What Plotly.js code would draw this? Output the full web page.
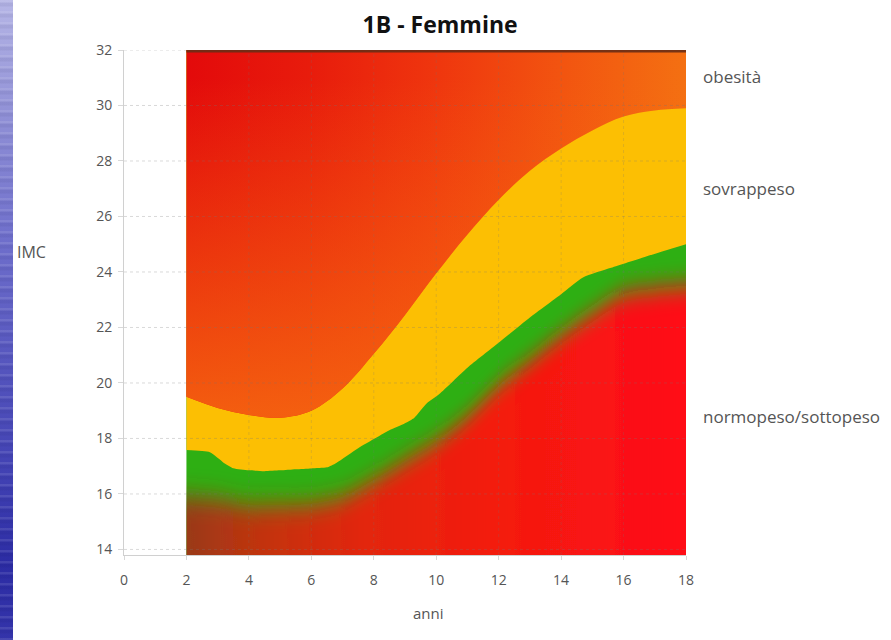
<!DOCTYPE html>
<html>
<head>
<meta charset="utf-8">
<script src="https://cdn.plot.ly/plotly-3.0.1.min.js"></script>
<style>
  html, body { margin: 0; padding: 0; background: #ffffff; }
  #wrap { position: relative; width: 891px; height: 640px; overflow: hidden; }
  #chart { position: absolute; left: 0; top: 0; width: 891px; height: 640px; }
  #stripe {
    position: absolute; left: 0; top: 0; width: 13px; height: 640px; z-index: 5;
    background:
      repeating-linear-gradient(to bottom, rgba(255,255,255,0.10) 0px, rgba(255,255,255,0.10) 2px, rgba(0,0,60,0.06) 3px, rgba(0,0,60,0.06) 6px, rgba(255,255,255,0.0) 7px, rgba(255,255,255,0.0) 11px),
      linear-gradient(to bottom, #b6b6e6 0%, #9090d6 18%, #6e6ecb 38%, #5454bd 58%, #4040b2 75%, #2c2ca4 88%, #3434aa 100%);
  }
</style>
</head>
<body>
<div id="wrap">
  <div id="chart"></div>
  <div id="stripe"></div>
</div>
<script>
// ---- data ----
const ageX = [2, 3, 4, 5, 6, 7, 8, 9, 10, 11, 12, 13, 14, 15, 16, 17, 18];
// upper boundary of "sovrappeso" (start of "obesità")
const obesityCut = [19.5, 19.1, 18.85, 18.75, 19.0, 19.8, 21.05, 22.45, 23.95, 25.35, 26.6, 27.65, 28.45, 29.1, 29.6, 29.82, 29.9];
// upper boundary of "normopeso/sottopeso" (start of "sovrappeso")
const overweightX = [2, 2.75, 3.2, 3.5, 4, 4.5, 5, 5.5, 6, 6.5, 6.8, 7.5, 8, 8.5, 9, 9.3, 9.7, 10.1, 11, 12, 13, 14, 14.7, 15.6, 16.7, 18];
const overweightCut = [17.58, 17.5, 17.12, 16.93, 16.85, 16.82, 16.85, 16.89, 16.92, 16.96, 17.12, 17.65, 17.98, 18.3, 18.55, 18.75, 19.27, 19.6, 20.55, 21.45, 22.36, 23.2, 23.8, 24.15, 24.55, 25.0];
// where the green band fades into red
const greenFade = [15.9, 15.8, 15.6, 15.6, 15.65, 15.9, 16.5, 17.2, 17.9, 18.8, 19.9, 20.8, 21.7, 22.5, 23.2, 23.4, 23.5];
// top of the coloured area
const topX = [2, 18];
const topY = [32, 32];
// ticks
const xTicks = [0, 2, 4, 6, 8, 10, 12, 14, 16, 18];
const yTicks = [14, 16, 18, 20, 22, 24, 26, 28, 30, 32];
const zoneNames = ['obesità', 'sovrappeso', 'normopeso/sottopeso'];

const FONT = '"Open Sans", "Noto Sans", sans-serif';
const noLine = { width: 0, color: 'rgba(0,0,0,0)' };
const base = { type: 'scatter', mode: 'lines', hoverinfo: 'skip', showlegend: false };

const data = [
  // 0: green under everything
  Object.assign({}, base, { x: topX, y: topY, fill: 'tozeroy', fillcolor: '#2eaf13', line: noLine }),
  // 1: red base below green fade (softened afterwards)
  Object.assign({}, base, { x: ageX, y: greenFade, fill: 'tozeroy', line: Object.assign({ shape: 'spline' }, noLine),
    fillgradient: { type: 'horizontal', start: 2, stop: 18,
      colorscale: [[0, '#9a3a16'], [0.15, '#c2330f'], [0.35, '#e22610'], [0.6, '#f31c10'], [1, '#ff0c14']] } }),
  // 2-3: yellow band (sovrappeso) from overweight cut upwards
  Object.assign({}, base, { x: overweightX, y: overweightCut, line: Object.assign({ shape: 'spline', smoothing: 0.6 }, noLine) }),
  Object.assign({}, base, { x: topX, y: topY, fill: 'tonexty', fillcolor: 'rgb(252,191,3)', line: noLine }),
  // 4-5: obesity area, horizontal gradient
  Object.assign({}, base, { x: ageX, y: obesityCut, line: Object.assign({ shape: 'spline' }, noLine) }),
  Object.assign({}, base, { x: topX, y: topY, fill: 'tonexty', line: noLine,
    fillgradient: { type: 'horizontal', start: 2, stop: 18,
      colorscale: [[0, '#e30a0b'], [0.25, '#e81c0c'], [0.5, '#ef360e'], [0.75, '#f25410'], [1, '#f47012']] } }),
  // 6-7: obesity area, orange glow near boundary
  Object.assign({}, base, { x: ageX, y: obesityCut, line: Object.assign({ shape: 'spline' }, noLine) }),
  Object.assign({}, base, { x: topX, y: topY, fill: 'tonexty', line: noLine,
    fillgradient: { type: 'vertical', start: 19, stop: 31,
      colorscale: [[0, 'rgba(246,106,16,0.85)'], [1, 'rgba(246,106,16,0)']] } })
];

const shapes = [];
yTicks.forEach(function (v) {
  shapes.push({ type: 'line', xref: 'x', yref: 'y', x0: 0, x1: 18, y0: v, y1: v, layer: 'above',
    line: { color: 'rgba(120,120,120,0.28)', width: 1, dash: 'dot' } });
});
xTicks.slice(2, -1).forEach(function (v) {
  shapes.push({ type: 'line', xref: 'x', yref: 'y', x0: v, x1: v, y0: 13.8, y1: 32, layer: 'above',
    line: { color: 'rgba(120,120,120,0.22)', width: 1, dash: 'dot' } });
});
// dark rim on top of coloured area
shapes.push({ type: 'line', xref: 'x', yref: 'y', x0: 2, x1: 18, y0: 32, y1: 32, layer: 'above',
  line: { color: 'rgba(105,45,22,0.9)', width: 5 } });

const labelFont = { family: FONT, size: 17, color: '#555555' };
const annotations = [
  { text: zoneNames[0], xref: 'paper', yref: 'y', x: 1.027, y: 31.05, xanchor: 'left', yanchor: 'middle', showarrow: false, font: labelFont },
  { text: zoneNames[1], xref: 'paper', yref: 'y', x: 1.027, y: 27.0, xanchor: 'left', yanchor: 'middle', showarrow: false, font: labelFont },
  { text: zoneNames[2], xref: 'paper', yref: 'y', x: 1.027, y: 18.8, xanchor: 'left', yanchor: 'middle', showarrow: false, font: labelFont },
  { text: 'IMC', xref: 'paper', yref: 'paper', x: -0.135, y: 0.6, xanchor: 'right', yanchor: 'middle', showarrow: false, font: { family: FONT, size: 16, color: '#555555' } },
  { text: 'anni', xref: 'paper', yref: 'paper', x: 0.541, y: -0.115, xanchor: 'center', yanchor: 'middle', showarrow: false, font: { family: FONT, size: 15, color: '#555555' } }
];

const layout = {
  width: 891, height: 640,
  margin: { l: 124, r: 205, t: 50, b: 85, pad: 0 },
  paper_bgcolor: '#ffffff', plot_bgcolor: '#ffffff',
  font: { family: FONT, color: '#555555' },
  title: { text: '<b>1B - Femmine</b>', x: 0.494, xref: 'container', xanchor: 'center', y: 0.961, yref: 'container', yanchor: 'middle',
    font: { family: FONT, size: 23, color: '#111111' } },
  xaxis: {
    range: [0, 18], tickvals: xTicks, ticktext: xTicks.map(String),
    showgrid: false, zeroline: false, showline: true, linecolor: '#d0d0d0', linewidth: 1,
    ticks: 'outside', ticklen: 4, tickcolor: '#d8d8d8', ticklabelstandoff: 8,
    tickfont: { family: FONT, size: 14, color: '#555555' },
    fixedrange: true
  },
  yaxis: {
    range: [13.8, 32], tickvals: yTicks, ticktext: yTicks.map(String),
    showgrid: false, zeroline: false, showline: true, linecolor: '#d0d0d0', linewidth: 1,
    ticks: 'outside', ticklen: 5, tickcolor: '#d8d8d8', ticklabelstandoff: 3,
    tickfont: { family: FONT, size: 14, color: '#555555' },
    fixedrange: true
  },
  shapes: shapes,
  annotations: annotations
};

const gd = document.getElementById('chart');
Plotly.newPlot(gd, data, layout, { staticPlot: true, displayModeBar: false }).then(function () {
  const ns = 'http://www.w3.org/2000/svg';
  const svg = gd.querySelector('svg.main-svg');
  let defs = svg.querySelector('defs');
  if (!defs) { defs = document.createElementNS(ns, 'defs'); svg.insertBefore(defs, svg.firstChild); }
  const f = document.createElementNS(ns, 'filter');
  f.setAttribute('id', 'softVertical');
  f.setAttribute('x', '-2%'); f.setAttribute('y', '-10%');
  f.setAttribute('width', '104%'); f.setAttribute('height', '120%');
  const b = document.createElementNS(ns, 'feGaussianBlur');
  b.setAttribute('stdDeviation', '0 12');
  f.appendChild(b);
  defs.appendChild(f);
  const traces = gd.querySelectorAll('.scatterlayer .trace');
  if (traces[1]) {
    const fillPath = traces[1].querySelector('.js-fill');
    if (fillPath) fillPath.setAttribute('filter', 'url(#softVertical)');
  }
});
</script>
</body>
</html>
